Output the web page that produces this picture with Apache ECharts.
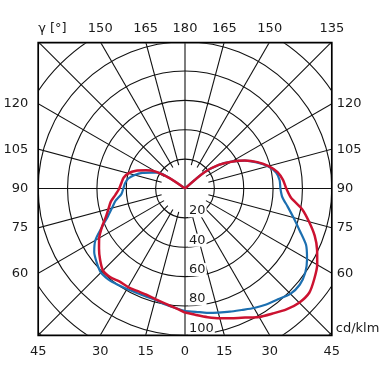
<!DOCTYPE html>
<html><head><meta charset="utf-8">
<script src="https://cdn.jsdelivr.net/npm/echarts@6/dist/echarts.min.js"></script>
<style>html,body{margin:0;padding:0;background:#fff}#c{width:380px;height:380px}</style>
</head><body><div id="c"></div>
<script>
// ---- data (cd/klm against gamma angle, 0 = nadir) ----
const gammaRight = [0,5,10,15,20,25,30,35,40,45,50,55,60,65,70,75,80,85,90,95,100,105,110,115,120,125,130];
const redRight   = [84.5,86.5,89,91.5,94,97,101,104,107.5,110,110.5,107.5,104,99.3,94,87.5,81,72.5,69,67,64,59,52.5,45,36.5,28,17];
const blueRight  = [83.5,84.3,86,87.5,89.3,91.3,94,96.5,98.5,101.5,102,100,96,91,83,76.5,71,66.5,65,64.7,63,58.5,52,45,36.5,28,17];
const gammaLeft  = [0,5,10,15,20,25,30,35,40,45,50,55,60,65,70,75,80,85,90,95,100,105,110,115,120,124];
const redLeft    = [84.5,81.5,79.5,78,77,77,77.5,77.5,79,79,75.5,71.5,67.5,62.5,57.5,54,51.3,47.5,44.8,43.5,42.5,40,35.5,29.5,23,12];
const blueLeft   = [83.5,81.5,80,78.5,78.2,78.3,79,80,81,81,78.5,75.5,70.5,62.5,56,51.5,48,43.5,42,41,39.2,35.5,31,25.5,21.5,12];
const ringValues = [20,40,60,80,100];
const radialGammas = [15,30,45,60,75,105,120,135,150,165];
const topTicks    = [150,165,180,165,150,135];
const bottomTicks = [45,30,15,0,15,30,45];
const sideTicks   = [120,105,90,75,60];
const unitLabel = 'cd/klm';
const angleTitle = 'γ [°]';

// ---- layout / style ----
const CX = 185, CY = 188.5, PXU = 1.468, RMAX = 150;
const RED = '#cc1230', BLUE = '#1c6fb0', GRID = '#111';
const FONT = 'DejaVu Sans';

const chart = echarts.init(document.getElementById('c'), null, {renderer: 'canvas'});

function half(gam, vals, side) { // pole -> nadir
  const d = [[0, 180]];
  for (let i = gam.length - 1; i >= 0; i--) {
    d.push([vals[i], side < 0 ? 360 - gam[i] : gam[i]]);
  }
  return d;
}
function curve(data, color, w, z) {
  return {type: 'line', coordinateSystem: 'polar', data: data, showSymbol: false, symbol: 'none',
    smooth: 0.25, silent: true, z: z, lineStyle: {color: color, width: w}, animation: false};
}
const series = [];
series.push({type: 'line', coordinateSystem: 'polar', data: [[0, 0]], symbol: 'none', silent: true, lineStyle: {width: 0}});
radialGammas.forEach(gm => {
  [gm, 360 - gm].forEach(t => {
    series.push({type: 'line', coordinateSystem: 'polar', data: [[16.5, t], [RMAX, t]], symbol: 'none',
      silent: true, z: 1, animation: false, lineStyle: {color: GRID, width: 1.1}});
  });
});
series.push({type: 'line', coordinateSystem: 'polar', data: [[RMAX, 0], [RMAX, 180]], symbol: 'none', silent: true, z: 1, animation: false, lineStyle: {color: GRID, width: 1.1}});
series.push({type: 'line', coordinateSystem: 'polar', data: [[RMAX, 90], [RMAX, 270]], symbol: 'none', silent: true, z: 1, animation: false, lineStyle: {color: GRID, width: 1.1}});
series.push(curve(half(gammaLeft, blueLeft, -1), BLUE, 2.2, 3));
series.push(curve(half(gammaRight, blueRight, 1), BLUE, 2.2, 3));
series.push(curve(half(gammaLeft, redLeft, -1), RED, 2.5, 4));
series.push(curve(half(gammaRight, redRight, 1), RED, 2.5, 4));

chart.setOption({
  animation: false,
  backgroundColor: '#fff',
  polar: {center: [CX, CY], radius: RMAX * PXU},
  angleAxis: {type: 'value', min: 0, max: 360, startAngle: 270, clockwise: false,
    axisLine: {show: false}, axisTick: {show: false}, axisLabel: {show: false}, splitLine: {show: false}},
  radiusAxis: {type: 'value', min: 0, max: RMAX, interval: 20,
    axisLine: {show: false}, axisTick: {show: false}, axisLabel: {show: false},
    splitLine: {show: true, lineStyle: {color: GRID, width: 1.1}}},
  series: series
});

function P(r, t) { return chart.convertToPixel({seriesIndex: 0}, [r, t]); }
const fLeft = P(100, 270)[0], fRight = P(100, 90)[0], fTop = P(100, 180)[1] + 1, fBottom = P(100, 0)[1];
const rad = Math.PI / 180;
const els = [];
const W = 380, H = 380, OV = 0.6;
[[0, 0, W, fTop + OV], [0, fBottom - OV, W, H - fBottom + OV], [0, 0, fLeft + OV, H], [fRight - OV, 0, W - fRight + OV, H]].forEach(r => {
  els.push({type: 'rect', shape: {x: r[0], y: r[1], width: r[2], height: r[3]}, style: {fill: '#fff'}, z: 100, silent: true});
});
els.push({type: 'rect', shape: {x: fLeft, y: fTop, width: fRight - fLeft, height: fBottom - fTop}, style: {fill: null, stroke: '#000', lineWidth: 1.7}, z: 101, silent: true});
function txt(x, y, s, align, vAlign) {
  els.push({type: 'text', x: x, y: y, z: 102, silent: true,
    style: {text: s, font: '13px "' + FONT + '"', fill: '#1a1a1a', align: align, verticalAlign: vAlign}});
}
topTicks.forEach((v, i) => {
  const t = i < 2 ? 360 - v : v;
  const p = P(100 / Math.cos((180 - v) * rad), t);
  txt(p[0], fTop - 8, String(v), 'center', 'bottom');
});
bottomTicks.forEach((v, i) => {
  const t = i < 3 ? 360 - v : v;
  const p = P(100 / Math.cos(v * rad), t);
  txt(p[0], fBottom + 10, String(v), 'center', 'top');
});
sideTicks.forEach(v => {
  const pl = P(100 / Math.sin(v * rad), 360 - v);
  txt(fLeft - 10, pl[1], String(v), 'right', 'middle');
  const pr = P(100 / Math.sin(v * rad), v);
  txt(fRight + 5, pr[1], String(v), 'left', 'middle');
});
ringValues.forEach(v => {
  const p = P(v, 0);
  els.push({type: 'text', x: p[0] + 3, y: p[1] - 0.5, z: 60, silent: true,
    style: {text: String(v), font: '13px "' + FONT + '"', fill: '#1a1a1a', align: 'left', verticalAlign: 'bottom',
      backgroundColor: '#fff', padding: [0, 1, 0, 1]}});
});
txt(fRight + 4, fBottom - 7, unitLabel, 'left', 'middle');
txt(fLeft, fTop - 8, angleTitle, 'left', 'bottom');
chart.setOption({graphic: {elements: els}});
</script></body></html>
